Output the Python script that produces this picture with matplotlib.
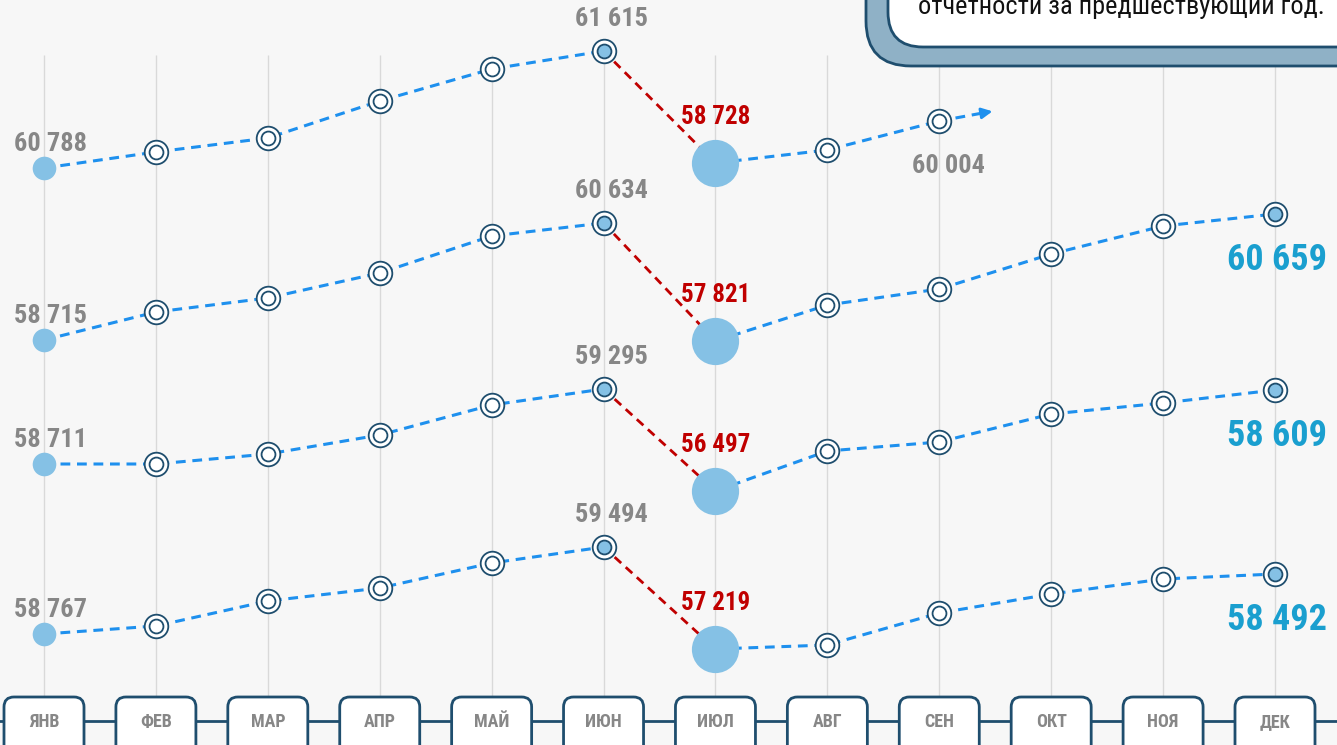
import matplotlib
matplotlib.use('Agg')
import matplotlib.pyplot as plt
from matplotlib import font_manager
from matplotlib.patches import FancyBboxPatch
import numpy as np

# pick a narrow family with cyrillic, whichever is installed
installed = {f.name for f in font_manager.fontManager.ttflist}
narrow = [n for n in ['Roboto Condensed', 'Arial Narrow', 'Liberation Sans Narrow', 'PT Sans Narrow',
                      'Fira Sans Condensed', 'IBM Plex Sans Condensed', 'Open Sans Condensed',
                      'Archivo Narrow', 'Ubuntu Condensed', 'Roboto'] if n in installed]
plt.rcParams['font.family'] = narrow[:1] + ['DejaVu Sans']

months = ['ЯНВ', 'ФЕВ', 'МАР', 'АПР', 'МАЙ', 'ИЮН', 'ИЮЛ', 'АВГ', 'СЕН', 'ОКТ', 'НОЯ', 'ДЕК']

# vertical level of each point on the sheet (px from top), one list per row
row1 = [168, 152, 138, 101, 69, 51, 163, 150, 121]          # stops at СЕН
row2 = [340, 312, 298, 273, 236, 223, 341, 305, 289, 254, 226, 214]
row3 = [464, 464, 454, 435, 405, 389, 491, 451, 442, 414, 403, 390]
row4 = [634, 626, 601, 588, 563, 547, 649, 645, 613, 594, 579, 574]
rows = [row1, row2, row3, row4]

# labelled values
start_vals = [60788, 58715, 58711, 58767]
peak_vals = [61615, 60634, 59295, 59494]
drop_vals = [58728, 57821, 56497, 57219]
end_vals = [60004, 60659, 58609, 58492]

note_text = 'отчетности за предшествующий год.'

BLUE = '#1e90ee'
RED = '#c00000'
NAVY = '#1f4e6e'
LIGHT = '#85c1e5'
GRAY = '#878787'
TEAL = '#1a9fcf'


def fmt(v):
    return f'{v:,}'.replace(',', ' ')


W, H = 1337, 745
fig = plt.figure(figsize=(W / 100, H / 100), dpi=100, facecolor='#f7f7f7')
ax = fig.add_axes([0, 0, 1, 1])
ax.set_facecolor('#f7f7f7')
step = (1275 - 44) / 11
ax.set_xlim(-44 / step, (W - 44) / step)
ax.set_ylim(H, 0)
ax.axis('off')

# overlay in pixel units for boxes
deco = fig.add_axes([0, 0, 1, 1], zorder=5)
deco.set_xlim(0, W)
deco.set_ylim(H, 0)
deco.axis('off')
deco.patch.set_alpha(0)

x_m = np.arange(len(months))
ax.vlines(x_m, 55, 697, color='#d9d9d9', lw=1, zorder=0)

dash = (0, (3.2, 2.2))
for r, pos in enumerate(rows):
    x = np.arange(len(pos))
    pos = np.array(pos)
    ax.plot(x[:6], pos[:6], color=BLUE, lw=2.2, ls=dash, zorder=2)
    ax.plot(x[6:], pos[6:], color=BLUE, lw=2.2, ls=dash, zorder=2)
    ax.plot(x[5:7], pos[5:7], color=RED, lw=2, ls=dash, zorder=2)

    # ring markers
    idx = [i for i in range(1, len(pos)) if i != 6]
    ax.plot(x[idx], pos[idx], 'o', ms=17, mfc='white', mec=NAVY, mew=1.3, zorder=3)
    inner = ['white'] * len(pos)
    inner[5] = LIGHT
    if len(pos) == 12:
        inner[11] = LIGHT
    for i in idx:
        ax.plot(x[i], pos[i], 'o', ms=10, mfc=inner[i], mec=NAVY, mew=1.3, zorder=4)

    ax.plot(x[0], pos[0], 'o', ms=17, mfc=LIGHT, mec='none', zorder=3)
    ax.plot(x[6], pos[6], 'o', ms=34, mfc=LIGHT, mec='none', zorder=3)

    ax.annotate(fmt(start_vals[r]), (x[0], pos[0]), xytext=(7, 24), textcoords='offset pixels',
                ha='center', va='center', fontsize=19, fontweight='bold', color=GRAY)
    ax.annotate(fmt(peak_vals[r]), (x[5], pos[5]), xytext=(8, 32), textcoords='offset pixels',
                ha='center', va='center', fontsize=19, fontweight='bold', color=GRAY)
    ax.annotate(fmt(drop_vals[r]), (x[6], pos[6]), xytext=(0, 46), textcoords='offset pixels',
                ha='center', va='center', fontsize=18, fontweight='bold', color=RED)
    if len(pos) == 12:
        ax.annotate(fmt(end_vals[r]), (x[-1], pos[-1]), xytext=(2, -46), textcoords='offset pixels',
                    ha='center', va='center', fontsize=26, fontweight='bold', color=TEAL)
    else:
        ax.annotate(fmt(end_vals[r]), (x[-1], pos[-1]), xytext=(9, -45), textcoords='offset pixels',
                    ha='center', va='center', fontsize=19, fontweight='bold', color=GRAY)
        # arrow continuing the trend
        dy = pos[-1] - pos[-2]
        tip = (x[-1] + 0.5, pos[-1] + 0.35 * dy)
        mid = (x[-1] + 0.38, pos[-1] + 0.27 * dy)
        ax.plot([x[-1], mid[0]], [pos[-1], mid[1]], color=BLUE, lw=2.2, ls=dash, zorder=2)
        ax.annotate('', xy=tip, xytext=mid,
                    arrowprops=dict(arrowstyle='-|>', color=BLUE, lw=2, mutation_scale=16))

# month boxes along the bottom
deco.plot([0, W], [721, 721], color=NAVY, lw=2, zorder=1)
for i, m in enumerate(months):
    cx = ax.transData.transform((i, 0))[0]
    deco.add_patch(FancyBboxPatch((cx - 40, 697), 80, 70,
                                  boxstyle='round,pad=0,rounding_size=10',
                                  fc='white', ec=NAVY, lw=2, zorder=2))
    deco.text(cx, 722, m, ha='center', va='center', fontsize=13,
              fontweight='bold', color=GRAY, zorder=3)

# callout box in the top right corner
deco.add_patch(FancyBboxPatch((866, -80), 600, 146,
                              boxstyle='round,pad=0,rounding_size=45',
                              fc='#8fb1c6', ec=NAVY, lw=2, zorder=2))
deco.add_patch(FancyBboxPatch((888, -80), 600, 127,
                              boxstyle='round,pad=0,rounding_size=35',
                              fc='white', ec=NAVY, lw=2, zorder=3))
deco.text(918, 14, note_text, ha='left', va='baseline', fontsize=19, color='#111111', zorder=4)

fig.savefig('out.png', dpi=100, facecolor=fig.get_facecolor())
